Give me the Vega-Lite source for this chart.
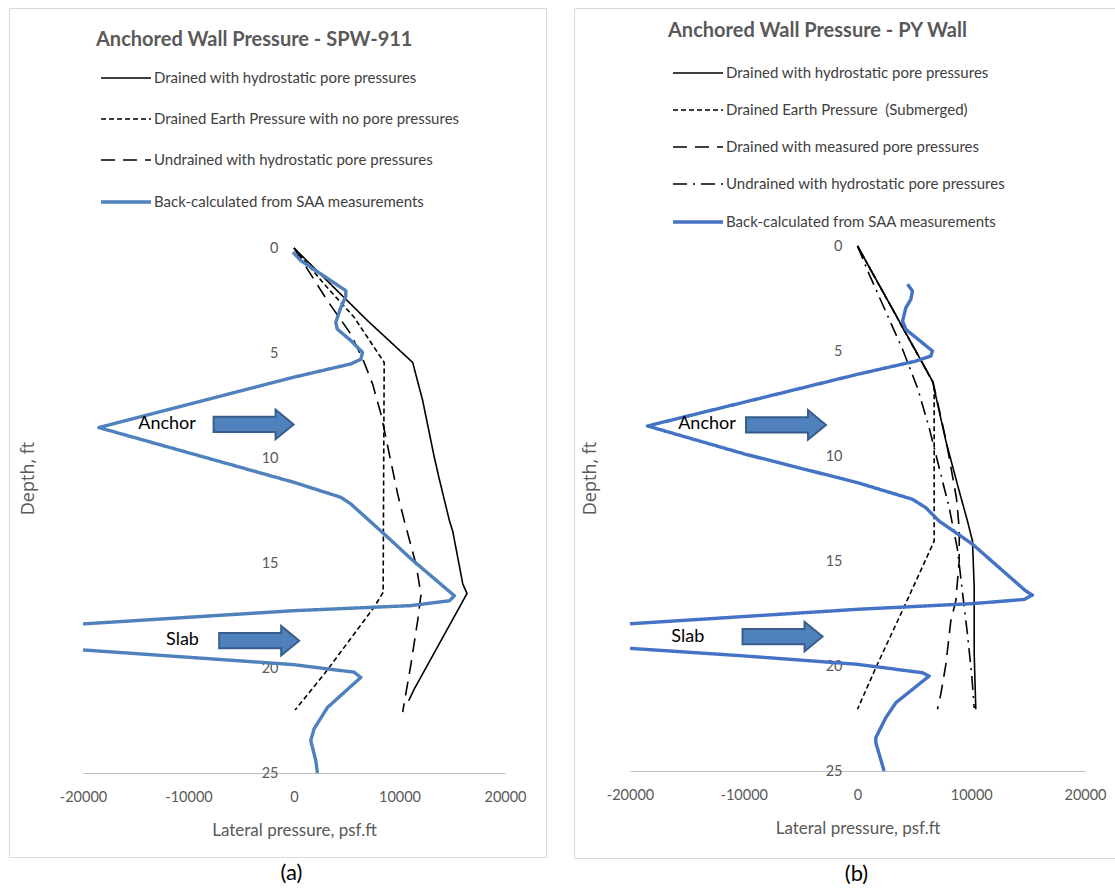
{
  "$schema": "https://vega.github.io/schema/vega-lite/v6.json",
  "background": "white",
  "padding": {"left": 8, "top": 7, "right": 0, "bottom": 0},
  "spacing": 26,
  "datasets": {
    "gridV": [{"v": -20000}, {"v": -10000}, {"v": 0}, {"v": 10000}, {"v": 20000}],
    "gridH": [{"d": 0}, {"d": 5}, {"d": 10}, {"d": 15}, {"d": 20}, {"d": 25}],
    "linesA": [
      {"s": "Drained with hydrostatic pore pressures", "v": 0, "d": 0},
      {"s": "Drained with hydrostatic pore pressures", "v": 6970, "d": 3.46},
      {"s": "Drained with hydrostatic pore pressures", "v": 11250, "d": 5.45},
      {"s": "Drained with hydrostatic pore pressures", "v": 12200, "d": 7.27},
      {"s": "Drained with hydrostatic pore pressures", "v": 13300, "d": 9.97},
      {"s": "Drained with hydrostatic pore pressures", "v": 13770, "d": 11.0},
      {"s": "Drained with hydrostatic pore pressures", "v": 14730, "d": 12.98},
      {"s": "Drained with hydrostatic pore pressures", "v": 15050, "d": 13.5},
      {"s": "Drained with hydrostatic pore pressures", "v": 16000, "d": 16.0},
      {"s": "Drained with hydrostatic pore pressures", "v": 16400, "d": 16.45},
      {"s": "Drained with hydrostatic pore pressures", "v": 11400, "d": 21.0},
      {"s": "Drained with hydrostatic pore pressures", "v": 10870, "d": 21.56},
      {"s": "Drained Earth Pressure with no pore pressures", "v": 0, "d": 0},
      {"s": "Drained Earth Pressure with no pore pressures", "v": 2850, "d": 1.71},
      {"s": "Drained Earth Pressure with no pore pressures", "v": 5700, "d": 3.3},
      {"s": "Drained Earth Pressure with no pore pressures", "v": 8550, "d": 5.45},
      {"s": "Drained Earth Pressure with no pore pressures", "v": 8500, "d": 10.5},
      {"s": "Drained Earth Pressure with no pore pressures", "v": 8450, "d": 16.4},
      {"s": "Drained Earth Pressure with no pore pressures", "v": 7600, "d": 17.1},
      {"s": "Drained Earth Pressure with no pore pressures", "v": 2850, "d": 20.3},
      {"s": "Drained Earth Pressure with no pore pressures", "v": 100, "d": 22.0},
      {"s": "Undrained with hydrostatic pore pressures", "v": 0, "d": 0},
      {"s": "Undrained with hydrostatic pore pressures", "v": 3170, "d": 2.51},
      {"s": "Undrained with hydrostatic pore pressures", "v": 5390, "d": 4.1},
      {"s": "Undrained with hydrostatic pore pressures", "v": 6650, "d": 5.45},
      {"s": "Undrained with hydrostatic pore pressures", "v": 7450, "d": 6.48},
      {"s": "Undrained with hydrostatic pore pressures", "v": 8240, "d": 7.9},
      {"s": "Undrained with hydrostatic pore pressures", "v": 9030, "d": 9.8},
      {"s": "Undrained with hydrostatic pore pressures", "v": 9820, "d": 11.7},
      {"s": "Undrained with hydrostatic pore pressures", "v": 10450, "d": 12.98},
      {"s": "Undrained with hydrostatic pore pressures", "v": 11560, "d": 15.05},
      {"s": "Undrained with hydrostatic pore pressures", "v": 12040, "d": 16.5},
      {"s": "Undrained with hydrostatic pore pressures", "v": 11720, "d": 17.75},
      {"s": "Undrained with hydrostatic pore pressures", "v": 11090, "d": 19.8},
      {"s": "Undrained with hydrostatic pore pressures", "v": 10300, "d": 22.1},
      {"s": "Back-calculated from SAA measurements", "v": -100, "d": 0.2},
      {"s": "Back-calculated from SAA measurements", "v": 640, "d": 0.6},
      {"s": "Back-calculated from SAA measurements", "v": 4910, "d": 2.03},
      {"s": "Back-calculated from SAA measurements", "v": 4910, "d": 2.3},
      {"s": "Back-calculated from SAA measurements", "v": 4440, "d": 2.83},
      {"s": "Back-calculated from SAA measurements", "v": 3960, "d": 3.54},
      {"s": "Back-calculated from SAA measurements", "v": 4100, "d": 3.86},
      {"s": "Back-calculated from SAA measurements", "v": 5390, "d": 4.41},
      {"s": "Back-calculated from SAA measurements", "v": 6500, "d": 4.97},
      {"s": "Back-calculated from SAA measurements", "v": 6330, "d": 5.3},
      {"s": "Back-calculated from SAA measurements", "v": 5390, "d": 5.52},
      {"s": "Back-calculated from SAA measurements", "v": 0, "d": 6.15},
      {"s": "Back-calculated from SAA measurements", "v": -18500, "d": 8.55},
      {"s": "Back-calculated from SAA measurements", "v": 0, "d": 11.16},
      {"s": "Back-calculated from SAA measurements", "v": 4440, "d": 11.87},
      {"s": "Back-calculated from SAA measurements", "v": 5390, "d": 12.19},
      {"s": "Back-calculated from SAA measurements", "v": 8550, "d": 13.62},
      {"s": "Back-calculated from SAA measurements", "v": 11090, "d": 14.8},
      {"s": "Back-calculated from SAA measurements", "v": 15200, "d": 16.56},
      {"s": "Back-calculated from SAA measurements", "v": 14730, "d": 16.8},
      {"s": "Back-calculated from SAA measurements", "v": 11090, "d": 17.03},
      {"s": "Back-calculated from SAA measurements", "v": 0, "d": 17.27},
      {"s": "Back-calculated from SAA measurements", "v": -20000, "d": 17.9},
      {"s": "Back-calculated from SAA measurements", "v": null, "d": 18.5},
      {"s": "Back-calculated from SAA measurements", "v": -20000, "d": 19.14},
      {"s": "Back-calculated from SAA measurements", "v": 0, "d": 19.84},
      {"s": "Back-calculated from SAA measurements", "v": 5700, "d": 20.2},
      {"s": "Back-calculated from SAA measurements", "v": 6330, "d": 20.45},
      {"s": "Back-calculated from SAA measurements", "v": 3170, "d": 21.88},
      {"s": "Back-calculated from SAA measurements", "v": 1900, "d": 22.9},
      {"s": "Back-calculated from SAA measurements", "v": 1590, "d": 23.46},
      {"s": "Back-calculated from SAA measurements", "v": 2060, "d": 24.4},
      {"s": "Back-calculated from SAA measurements", "v": 2220, "d": 25.0}
    ],
    "linesB": [
      {"s": "Drained with hydrostatic pore pressures", "v": 0, "d": 0},
      {"s": "Drained with hydrostatic pore pressures", "v": 6590, "d": 6.43},
      {"s": "Drained with hydrostatic pore pressures", "v": 7770, "d": 9.29},
      {"s": "Drained with hydrostatic pore pressures", "v": 8940, "d": 11.67},
      {"s": "Drained with hydrostatic pore pressures", "v": 9670, "d": 13.1},
      {"s": "Drained with hydrostatic pore pressures", "v": 10110, "d": 14.05},
      {"s": "Drained with hydrostatic pore pressures", "v": 10260, "d": 16.27},
      {"s": "Drained with hydrostatic pore pressures", "v": 10260, "d": 19.44},
      {"s": "Drained with hydrostatic pore pressures", "v": 10400, "d": 22.06},
      {"s": "Drained Earth Pressure \u00a0(Submerged)", "v": 0, "d": 0},
      {"s": "Drained Earth Pressure \u00a0(Submerged)", "v": 6740, "d": 6.6},
      {"s": "Drained Earth Pressure \u00a0(Submerged)", "v": 6740, "d": 14.05},
      {"s": "Drained Earth Pressure \u00a0(Submerged)", "v": 4090, "d": 17.2},
      {"s": "Drained Earth Pressure \u00a0(Submerged)", "v": 1610, "d": 20.08},
      {"s": "Drained Earth Pressure \u00a0(Submerged)", "v": 0, "d": 22.06},
      {"s": "Drained with measured pore pressures", "v": 0, "d": 0},
      {"s": "Drained with measured pore pressures", "v": 6650, "d": 6.5},
      {"s": "Drained with measured pore pressures", "v": 7800, "d": 9.3},
      {"s": "Drained with measured pore pressures", "v": 8700, "d": 12.0},
      {"s": "Drained with measured pore pressures", "v": 8950, "d": 13.5},
      {"s": "Drained with measured pore pressures", "v": 8940, "d": 15.0},
      {"s": "Drained with measured pore pressures", "v": 8640, "d": 16.9},
      {"s": "Drained with measured pore pressures", "v": 8200, "d": 17.86},
      {"s": "Drained with measured pore pressures", "v": 7770, "d": 19.92},
      {"s": "Drained with measured pore pressures", "v": 7320, "d": 21.35},
      {"s": "Drained with measured pore pressures", "v": 7030, "d": 22.06},
      {"s": "Undrained with hydrostatic pore pressures", "v": 0, "d": 0},
      {"s": "Undrained with hydrostatic pore pressures", "v": 1030, "d": 1.35},
      {"s": "Undrained with hydrostatic pore pressures", "v": 3960, "d": 4.92},
      {"s": "Undrained with hydrostatic pore pressures", "v": 5270, "d": 6.75},
      {"s": "Undrained with hydrostatic pore pressures", "v": 6300, "d": 8.65},
      {"s": "Undrained with hydrostatic pore pressures", "v": 7180, "d": 10.56},
      {"s": "Undrained with hydrostatic pore pressures", "v": 8060, "d": 12.46},
      {"s": "Undrained with hydrostatic pore pressures", "v": 8790, "d": 14.44},
      {"s": "Undrained with hydrostatic pore pressures", "v": 9230, "d": 16.5},
      {"s": "Undrained with hydrostatic pore pressures", "v": 9670, "d": 18.5},
      {"s": "Undrained with hydrostatic pore pressures", "v": 10050, "d": 20.48},
      {"s": "Undrained with hydrostatic pore pressures", "v": 10260, "d": 22.0},
      {"s": "Back-calculated from SAA measurements", "v": 4400, "d": 1.82},
      {"s": "Back-calculated from SAA measurements", "v": 4830, "d": 2.14},
      {"s": "Back-calculated from SAA measurements", "v": 4690, "d": 2.54},
      {"s": "Back-calculated from SAA measurements", "v": 4250, "d": 2.94},
      {"s": "Back-calculated from SAA measurements", "v": 3960, "d": 3.57},
      {"s": "Back-calculated from SAA measurements", "v": 4250, "d": 3.97},
      {"s": "Back-calculated from SAA measurements", "v": 6590, "d": 5.0},
      {"s": "Back-calculated from SAA measurements", "v": 6450, "d": 5.24},
      {"s": "Back-calculated from SAA measurements", "v": 5130, "d": 5.48},
      {"s": "Back-calculated from SAA measurements", "v": 0, "d": 6.11},
      {"s": "Back-calculated from SAA measurements", "v": -18460, "d": 8.57},
      {"s": "Back-calculated from SAA measurements", "v": -9960, "d": 9.9},
      {"s": "Back-calculated from SAA measurements", "v": 0, "d": 11.27},
      {"s": "Back-calculated from SAA measurements", "v": 4830, "d": 12.06},
      {"s": "Back-calculated from SAA measurements", "v": 6000, "d": 12.46},
      {"s": "Back-calculated from SAA measurements", "v": 7180, "d": 13.1},
      {"s": "Back-calculated from SAA measurements", "v": 10110, "d": 14.2},
      {"s": "Back-calculated from SAA measurements", "v": 14800, "d": 16.43},
      {"s": "Back-calculated from SAA measurements", "v": 15380, "d": 16.62},
      {"s": "Back-calculated from SAA measurements", "v": 14650, "d": 16.83},
      {"s": "Back-calculated from SAA measurements", "v": 10110, "d": 17.03},
      {"s": "Back-calculated from SAA measurements", "v": 0, "d": 17.3},
      {"s": "Back-calculated from SAA measurements", "v": -20000, "d": 17.99},
      {"s": "Back-calculated from SAA measurements", "v": null, "d": 18.56},
      {"s": "Back-calculated from SAA measurements", "v": -20000, "d": 19.16},
      {"s": "Back-calculated from SAA measurements", "v": -9960, "d": 19.52},
      {"s": "Back-calculated from SAA measurements", "v": 0, "d": 19.92},
      {"s": "Back-calculated from SAA measurements", "v": 5710, "d": 20.32},
      {"s": "Back-calculated from SAA measurements", "v": 6300, "d": 20.48},
      {"s": "Back-calculated from SAA measurements", "v": 3370, "d": 21.75},
      {"s": "Back-calculated from SAA measurements", "v": 2490, "d": 22.46},
      {"s": "Back-calculated from SAA measurements", "v": 1610, "d": 23.41},
      {"s": "Back-calculated from SAA measurements", "v": 1610, "d": 23.65},
      {"s": "Back-calculated from SAA measurements", "v": 2340, "d": 25.0}
    ],
    "arrowsA": [{"label": "Anchor", "v": -3830, "d": 8.4}, {"label": "Slab", "v": -3300, "d": 18.7}],
    "textA": [{"label": "Anchor", "v": -12030, "d": 8.4}, {"label": "Slab", "v": -10570, "d": 18.65}],
    "arrowsB": [{"label": "Anchor", "v": -6285, "d": 8.52}, {"label": "Slab", "v": -6590, "d": 18.6}],
    "textB": [{"label": "Anchor", "v": -13230, "d": 8.48}, {"label": "Slab", "v": -14920, "d": 18.6}]
  },
  "hconcat": [
    {
      "width": 537,
      "height": 849,
      "title": {"text": "(a)", "orient": "bottom", "fontSize": 22, "font": "Lato", "fontWeight": "normal", "color": "#000000", "offset": 6, "dx": 14},
      "encoding": {
        "x": {"field": "v", "type": "quantitative",
          "scale": {"domain": [-20000, 20000], "range": [74, 496], "nice": false, "zero": false},
          "axis": {"orient": "bottom", "offset": -84, "values": [-20000, -10000, 0, 10000, 20000], "labelExpr": "toString(datum.value)", "labelFlush": false, "labelOverlap": false, "labelPadding": 17, "domain": true, "domainColor": "#bfbfbf", "title": "Lateral pressure, psf.ft", "titleFontSize": 17, "titlePadding": 19}},
        "y": {"field": "d", "type": "quantitative",
          "scale": {"domain": [0, 25], "range": [240, 765], "nice": false, "zero": false},
          "axis": {"orient": "left", "offset": -285, "values": [0, 5, 10, 15, 20, 25], "labelPadding": 16, "domain": false, "title": "Depth, ft", "titleFont": "Open Sans", "titleFontSize": 18, "titleX": -266, "titleY": 470, "titleAlign": "center", "titleBaseline": "middle", "titleAngle": -90}}
      },
      "layer": [
        {"data": {"name": "gridV"}, "mark": {"type": "rule", "color": "#d9d9d9", "strokeWidth": 1}, "encoding": {"y": {"datum": 0}, "y2": {"datum": 25}}},
        {"data": {"name": "gridH"}, "mark": {"type": "rule", "color": "#d9d9d9", "strokeWidth": 1}, "encoding": {"x": {"datum": -20000}, "x2": {"datum": 20000}}},
        {"data": {"name": "linesA"},
          "mark": {"type": "line", "invalid": "break-paths-show-domains", "strokeJoin": "round"},
          "encoding": {
            "order": {"field": "d", "type": "quantitative"},
            "color": {"field": "s", "type": "nominal",
              "scale": {"domain": ["Drained with hydrostatic pore pressures", "Drained Earth Pressure with no pore pressures", "Undrained with hydrostatic pore pressures", "Back-calculated from SAA measurements"], "range": ["#000000", "#000000", "#000000", "#4f81bd"]},
              "legend": {"title": "Anchored Wall Pressure - SPW-911", "orient": "none", "legendX": 87, "legendY": 22, "padding": 0, "titleFont": "Lato", "titleFontSize": 20, "titleFontWeight": "bold", "titleColor": "#595959", "titlePadding": 17, "titleLimit": 0, "labelFont": "Lato", "labelFontSize": 15, "labelColor": "#404040", "labelLimit": 0, "rowPadding": 22, "symbolType": "M -2.5 0 L 2.5 0", "symbolSize": 400, "symbolOffset": 18, "labelOffset": 16}},
            "strokeDash": {"field": "s", "type": "nominal",
              "scale": {"domain": ["Drained with hydrostatic pore pressures", "Drained Earth Pressure with no pore pressures", "Undrained with hydrostatic pore pressures", "Back-calculated from SAA measurements"], "range": [[1, 0], [5, 3], [14, 8], [1, 0]]}},
            "strokeWidth": {"field": "s", "type": "nominal",
              "scale": {"type": "ordinal", "domain": ["Drained with hydrostatic pore pressures", "Drained Earth Pressure with no pore pressures", "Undrained with hydrostatic pore pressures", "Back-calculated from SAA measurements"], "range": [1.6, 1.6, 1.6, 3.4]}}
          }},
        {"data": {"name": "arrowsA"},
          "mark": {"type": "point", "shape": "M -1 -0.19 L 0.55 -0.19 L 0.55 -0.37 L 1 0 L 0.55 0.37 L 0.55 0.19 L -1 0.19 Z", "size": 6400, "filled": true, "fill": "#4f81bd", "stroke": "#385d8a", "strokeWidth": 2, "opacity": 1, "fillOpacity": 1, "strokeOpacity": 1}},
        {"data": {"name": "textA"},
          "mark": {"type": "text", "font": "Lato", "fontSize": 18, "color": "#000000", "align": "center", "baseline": "middle"},
          "encoding": {"text": {"field": "label"}}}
      ]
    },
    {
      "width": 543,
      "height": 850,
      "title": {"text": "(b)", "orient": "bottom", "fontSize": 22, "font": "Lato", "fontWeight": "normal", "color": "#000000", "offset": 6, "dx": 11},
      "encoding": {
        "x": {"field": "v", "type": "quantitative",
          "scale": {"domain": [-20000, 20000], "range": [56, 511], "nice": false, "zero": false},
          "axis": {"orient": "bottom", "offset": -87, "values": [-20000, -10000, 0, 10000, 20000], "labelExpr": "toString(datum.value)", "labelFlush": false, "labelOverlap": false, "labelPadding": 17, "domain": true, "domainColor": "#bfbfbf", "title": "Lateral pressure, psf.ft", "titleFontSize": 17, "titlePadding": 19}},
        "y": {"field": "d", "type": "quantitative",
          "scale": {"domain": [0, 25], "range": [238, 763], "nice": false, "zero": false},
          "axis": {"orient": "left", "offset": -284, "values": [0, 5, 10, 15, 20, 25], "labelPadding": 16, "domain": false, "title": "Depth, ft", "titleFont": "Open Sans", "titleFontSize": 18, "titleX": -268, "titleY": 470, "titleAlign": "center", "titleBaseline": "middle", "titleAngle": -90}}
      },
      "layer": [
        {"data": {"name": "gridV"}, "mark": {"type": "rule", "color": "#d9d9d9", "strokeWidth": 1}, "encoding": {"y": {"datum": 0}, "y2": {"datum": 25}}},
        {"data": {"name": "gridH"}, "mark": {"type": "rule", "color": "#d9d9d9", "strokeWidth": 1}, "encoding": {"x": {"datum": -20000}, "x2": {"datum": 20000}}},
        {"data": {"name": "linesB"},
          "mark": {"type": "line", "invalid": "break-paths-show-domains", "strokeJoin": "round"},
          "encoding": {
            "order": {"field": "d", "type": "quantitative"},
            "color": {"field": "s", "type": "nominal",
              "scale": {"domain": ["Drained with hydrostatic pore pressures", "Drained Earth Pressure \u00a0(Submerged)", "Drained with measured pore pressures", "Undrained with hydrostatic pore pressures", "Back-calculated from SAA measurements"], "range": ["#000000", "#000000", "#000000", "#000000", "#4472c4"]},
              "legend": {"title": "Anchored Wall Pressure - PY Wall", "orient": "none", "legendX": 94, "legendY": 13, "padding": 0, "titleFont": "Lato", "titleFontSize": 20, "titleFontWeight": "bold", "titleColor": "#595959", "titlePadding": 21, "titleLimit": 0, "labelFont": "Lato", "labelFontSize": 15, "labelColor": "#404040", "labelLimit": 0, "rowPadding": 18, "symbolType": "M -2.5 0 L 2.5 0", "symbolSize": 400, "symbolOffset": 18, "labelOffset": 16}},
            "strokeDash": {"field": "s", "type": "nominal",
              "scale": {"domain": ["Drained with hydrostatic pore pressures", "Drained Earth Pressure \u00a0(Submerged)", "Drained with measured pore pressures", "Undrained with hydrostatic pore pressures", "Back-calculated from SAA measurements"], "range": [[1, 0], [5, 3], [14, 8], [14, 6, 2, 6], [1, 0]]}},
            "strokeWidth": {"field": "s", "type": "nominal",
              "scale": {"type": "ordinal", "domain": ["Drained with hydrostatic pore pressures", "Drained Earth Pressure \u00a0(Submerged)", "Drained with measured pore pressures", "Undrained with hydrostatic pore pressures", "Back-calculated from SAA measurements"], "range": [1.6, 1.6, 1.6, 1.6, 3.4]}}
          }},
        {"data": {"name": "arrowsB"},
          "mark": {"type": "point", "shape": "M -1 -0.19 L 0.55 -0.19 L 0.55 -0.37 L 1 0 L 0.55 0.37 L 0.55 0.19 L -1 0.19 Z", "size": 6400, "filled": true, "fill": "#4f81bd", "stroke": "#385d8a", "strokeWidth": 2, "opacity": 1, "fillOpacity": 1, "strokeOpacity": 1}},
        {"data": {"name": "textB"},
          "mark": {"type": "text", "font": "Lato", "fontSize": 18, "color": "#000000", "align": "center", "baseline": "middle"},
          "encoding": {"text": {"field": "label"}}}
      ]
    }
  ],
  "resolve": {
    "scale": {"x": "independent", "y": "independent", "color": "independent", "strokeDash": "independent", "strokeWidth": "independent"},
    "axis": {"x": "independent", "y": "independent"},
    "legend": {"color": "independent", "strokeDash": "independent", "strokeWidth": "independent"}
  },
  "config": {
    "view": {"stroke": "#d9d9d9", "strokeWidth": 1},
    "font": "Lato",
    "axis": {"grid": false, "ticks": false, "labelFont": "Lato", "labelFontSize": 14.5, "labelColor": "#595959", "titleFont": "Lato", "titleFontWeight": "normal", "titleColor": "#595959"}
  }
}
